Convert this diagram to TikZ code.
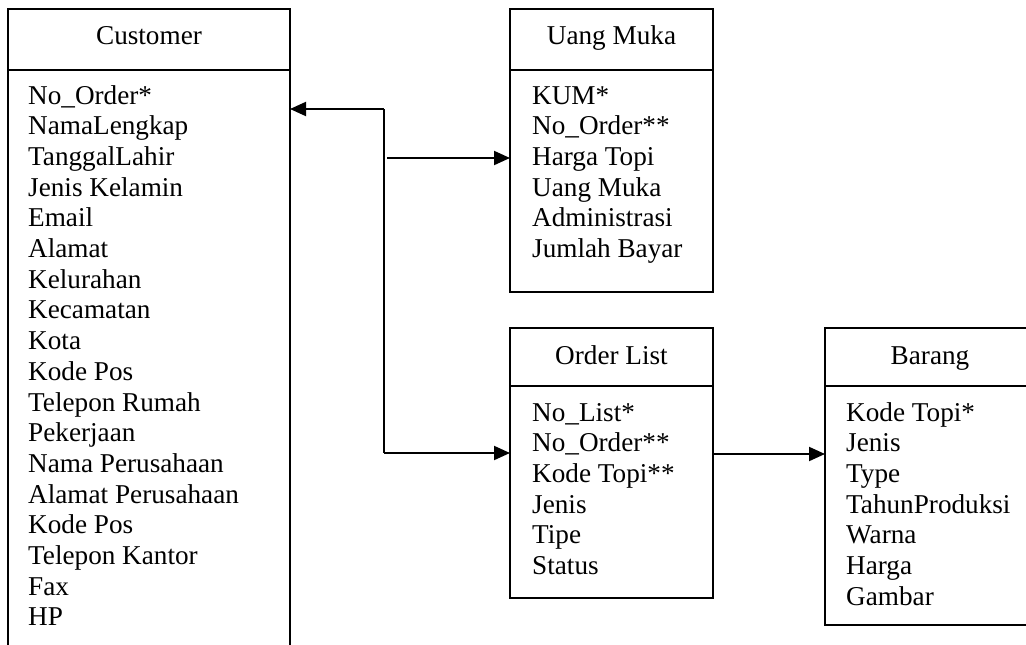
\documentclass[tikz,border=0pt]{standalone}
\usepackage{fontspec}
\setmainfont{Liberation Serif}
\usetikzlibrary{arrows.meta}
\begin{document}
\begin{tikzpicture}[x=1pt,y=-1pt,
  txt/.style={inner sep=0pt,font=\fontsize{27.2}{30.7}\selectfont},
  entbox/.style={draw,line width=1.4pt,inner sep=0pt,outer sep=0pt,anchor=north west},
  conn/.style={line width=2pt,-{Triangle[length=16pt,width=14pt]}},
  plainline/.style={line width=2pt}]
\useasboundingbox (0,0) rectangle (1026,645);
\clip (0,0) rectangle (1026,645);
\fill[white] (0,0) rectangle (1026,645);

% Customer
\node[entbox,minimum width=282pt,minimum height=651pt] (cust) at (8,9) {};
\draw[line width=1.4pt] ([yshift=-61pt]cust.north west) -- ([yshift=-61pt]cust.north east);
\node[txt,anchor=base] (custh) at (149,44) {Customer};
\foreach \t [count=\i from 0] in {No\_Order*,NamaLengkap,TanggalLahir,Jenis Kelamin,Email,Alamat,Kelurahan,Kecamatan,Kota,Kode Pos,Telepon Rumah,Pekerjaan,Nama Perusahaan,Alamat Perusahaan,Kode Pos,Telepon Kantor,Fax,HP}
  \node[txt,anchor=base west] (cust\i) at (28,104+\i*30.7) {\t};

% Uang Muka
\node[entbox,minimum width=203pt,minimum height=283pt] (um) at (510,9) {};
\draw[line width=1.4pt] ([yshift=-61pt]um.north west) -- ([yshift=-61pt]um.north east);
\node[txt,anchor=base] (umh) at (611.5,44) {Uang Muka};
\foreach \t [count=\i from 0] in {KUM*,No\_Order**,Harga Topi,Uang Muka,Administrasi,Jumlah Bayar}
  \node[txt,anchor=base west] (um\i) at (532,104+\i*30.7) {\t};

% Order List
\node[entbox,minimum width=203pt,minimum height=270pt] (ol) at (510,328) {};
\draw[line width=1.4pt] ([yshift=-58pt]ol.north west) -- ([yshift=-58pt]ol.north east);
\node[txt,anchor=base] (olh) at (611.5,364) {Order List};
\foreach \t [count=\i from 0] in {No\_List*,No\_Order**,Kode Topi**,Jenis,Tipe,Status}
  \node[txt,anchor=base west] (ol\i) at (532,421+\i*30.7) {\t};

% Barang
\node[entbox,minimum width=215pt,minimum height=297pt] (br) at (825,328) {};
\draw[line width=1.4pt] ([yshift=-58pt]br.north west) -- ([yshift=-58pt]br.north east);
\node[txt,anchor=base] (brh) at (930,364) {Barang};
\foreach \t [count=\i from 0] in {Kode Topi*,Jenis,Type,TahunProduksi,Warna,Harga,Gambar}
  \node[txt,anchor=base west] (br\i) at (846,421+\i*30.7) {\t};

% Connectors
\coordinate (jtop) at (384,109);
\coordinate (jbot) at (384,453);
\coordinate (jum) at (387,158);
\draw[plainline] (jtop) -- (jbot);
\draw[conn] (jtop) -- (jtop -| cust.east);
\draw[conn] (jbot) -- (jbot -| ol.west);
\draw[conn] (jum) -- (jum -| um.west);
\coordinate (olb) at (713,454);
\draw[conn] (olb -| ol.east) -- (olb -| br.west);
\end{tikzpicture}
\end{document}
